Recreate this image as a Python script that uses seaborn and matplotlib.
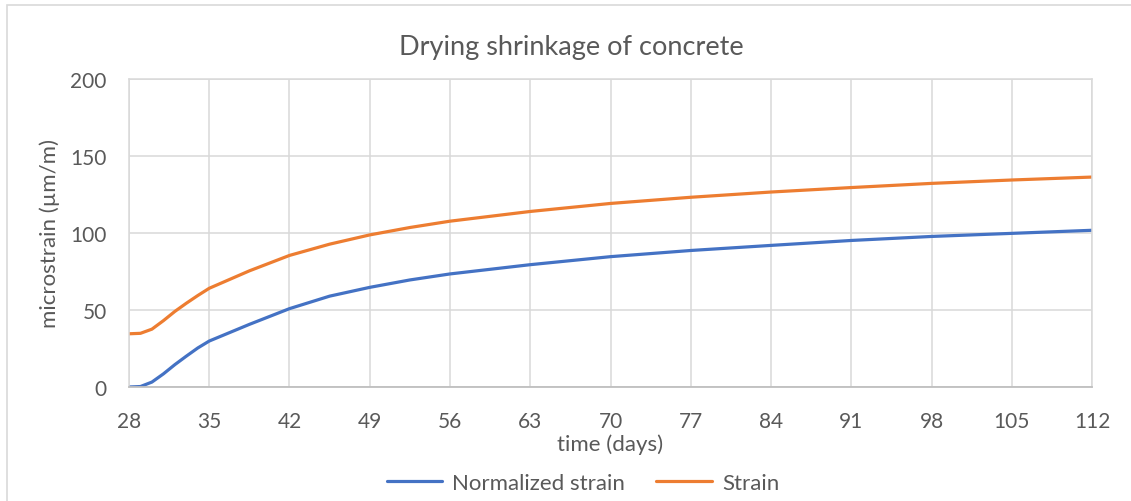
import matplotlib
matplotlib.use("Agg")
import matplotlib.pyplot as plt
import seaborn as sns
import pandas as pd
from matplotlib.patches import Rectangle
from matplotlib.lines import Line2D

# Measurement days after casting
days = [28, 29, 30, 31, 32, 33, 34, 35, 38.5, 42, 45.5, 49, 52.5,
        56, 63, 70, 77, 84, 91, 98, 105, 112]
# Total measured strain (µm/m)
strain = [34.5, 34.8, 37.5, 43.0, 49.0, 54.3, 59.3, 64.0, 75.3, 85.3, 92.6, 98.6, 103.4,
          107.5, 113.8, 119.0, 123.0, 126.4, 129.3, 132.0, 134.2, 136.1]
# Strain relative to the first reading at 28 days (µm/m)
normalized = [0.0, 0.3, 3.2, 8.5, 14.5, 20.0, 25.3, 29.8, 40.6, 50.8, 58.9, 64.6, 69.4,
              73.3, 79.3, 84.5, 88.5, 91.8, 95.0, 97.6, 99.6, 101.6]

series_names = ["Normalized strain", "Strain"]
series_colors = ["#4472C4", "#ED7D31"]
x_ticks = list(range(28, 113, 7))
y_ticks = [0, 50, 100, 150, 200]

df = pd.concat([
    pd.DataFrame({"day": days, "value": normalized, "series": series_names[0]}),
    pd.DataFrame({"day": days, "value": strain, "series": series_names[1]}),
])

sns.set_theme(style="white")
plt.rcParams["font.family"] = ["Lato", "DejaVu Sans"]
text_color = "#595959"
grid_color = "#D9D9D9"

fig = plt.figure(figsize=(11.31, 5.02), dpi=100)
ax = fig.add_axes([129 / 1131, 1 - 388 / 502, (1092 - 129) / 1131, (388 - 79.5) / 502])

sns.lineplot(data=df, x="day", y="value", hue="series", hue_order=series_names,
             palette=dict(zip(series_names, series_colors)), linewidth=2.3,
             ax=ax, legend=False, sort=True)
for ln in ax.lines:
    ln.set_solid_capstyle("round")
    ln.set_solid_joinstyle("round")

ax.set_xlim(28, 112)
ax.set_ylim(0, 200)
ax.set_xticks(x_ticks)
ax.set_yticks(y_ticks)
ax.grid(True, color=grid_color, linewidth=1.1)
ax.set_axisbelow(True)
for side in ["top", "right", "left"]:
    ax.spines[side].set_color(grid_color)
    ax.spines[side].set_linewidth(1.1)
ax.spines["bottom"].set_color("#BFBFBF")
ax.spines["bottom"].set_linewidth(1.3)
ax.tick_params(axis="both", length=0, labelsize=15, labelcolor=text_color)
ax.tick_params(axis="x", pad=17)
ax.tick_params(axis="y", pad=16)

ax.set_xlabel("time (days)", fontsize=16, color=text_color, labelpad=2)
ax.set_ylabel("microstrain (µm/m)", fontsize=16, color=text_color)
ax.yaxis.set_label_coords(-0.072, 0.5)

fig.text(571.5 / 1131, 1 - 47 / 502, "Drying shrinkage of concrete",
         ha="center", va="center", fontsize=19.5, color=text_color)

handles = [Line2D([0], [0], color=c, linewidth=2.3) for c in series_colors]
fig.legend(handles, series_names, loc="center", bbox_to_anchor=(583 / 1131, 1 - 484 / 502),
           ncol=2, frameon=False, fontsize=16, handlelength=2.5, handletextpad=0.45,
           columnspacing=1.4, labelcolor=text_color)

# Chart-area border
fig.patches.append(Rectangle((7 / 1131, -0.1), 1.2, 1 - 6 / 502 + 0.1,
                             transform=fig.transFigure, fill=False,
                             edgecolor=grid_color, linewidth=1.2))

fig.savefig("out.png", dpi=100)
